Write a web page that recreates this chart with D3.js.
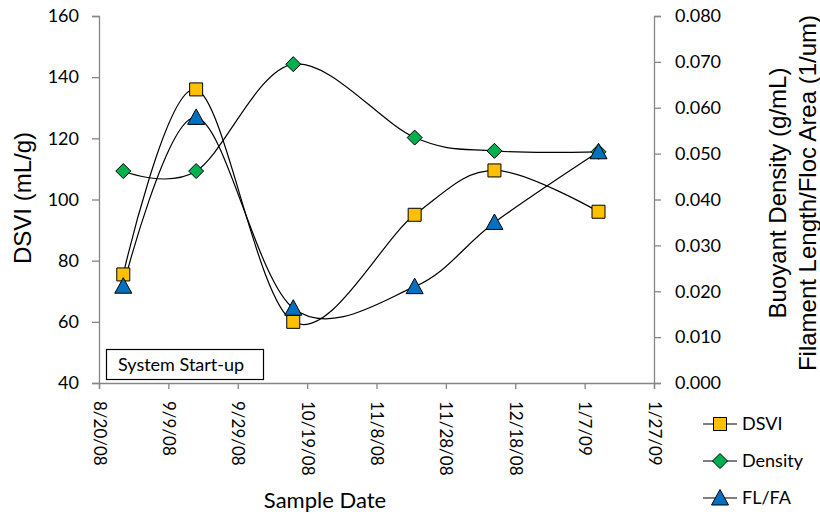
<!DOCTYPE html>
<html>
<head>
<meta charset="utf-8">
<script src="https://cdn.jsdelivr.net/npm/d3@7"></script>
<style>
  html, body { margin: 0; padding: 0; background: #fff; }
  svg { display: block; }
</style>
</head>
<body>
<svg id="chart" width="820" height="521"></svg>
<script>
// ---- data ----
const sampleDates = ["2008-08-27", "2008-09-17", "2008-10-15", "2008-11-19", "2008-12-12", "2009-01-11"];
const dsvi = [75.5, 136, 60, 95, 109.5, 96];
const density = [0.0462, 0.0462, 0.0695, 0.0535, 0.0506, 0.0504];
const flfa = [0.0211, 0.0579, 0.0163, 0.0210, 0.0350, 0.0504];
const xTickLabels = ["8/20/08", "9/9/08", "9/29/08", "10/19/08", "11/8/08", "11/28/08", "12/18/08", "1/7/09", "1/27/09"];
const leftTicks = [40, 60, 80, 100, 120, 140, 160];
const rightTicks = [0, 0.01, 0.02, 0.03, 0.04, 0.05, 0.06, 0.07, 0.08];
const seriesNames = ["DSVI", "Density", "FL/FA"];

// ---- setup ----
const svg = d3.select("#chart");
const parse = d3.timeParse("%Y-%m-%d");
const parseTick = d3.timeParse("%m/%d/%y");
const tickDates = xTickLabels.map(parseTick);

const mLeft = 99, mRight = 654, mTop = 16, mBottom = 383;
const x = d3.scaleTime().domain([tickDates[0], tickDates[tickDates.length - 1]]).range([mLeft, mRight]);
const yL = d3.scaleLinear().domain([40, 160]).range([mBottom, mTop]);
const yR = d3.scaleLinear().domain([0, 0.08]).range([mBottom, mTop]);

const axisColor = "#868686";
const tickFont = "Lato, 'Open Sans', sans-serif";
const titleFont = "'Liberation Sans', Arial, sans-serif";

// left axis
const gL = svg.append("g").attr("transform", `translate(${mLeft},0)`)
  .call(d3.axisLeft(yL).tickValues(leftTicks).tickSize(7).tickPadding(13).tickFormat(d3.format("d")));
// right axis
const gR = svg.append("g").attr("transform", `translate(${mRight},0)`)
  .call(d3.axisRight(yR).tickValues(rightTicks).tickSize(7).tickPadding(14).tickFormat(d3.format(".3f")));
// bottom axis
const gB = svg.append("g").attr("transform", `translate(0,${mBottom})`)
  .call(d3.axisBottom(x).tickValues(tickDates).tickSize(6).tickFormat((d, i) => xTickLabels[i]));

[gL, gR, gB].forEach(g => {
  g.select(".domain").attr("stroke", axisColor).attr("stroke-width", 1.3);
  g.selectAll(".tick line").attr("stroke", axisColor).attr("stroke-width", 1.3);
  g.selectAll("text").attr("fill", "#000").style("font-family", tickFont);
});
gL.selectAll("text").style("font-size", "18px");
gR.selectAll("text").style("font-size", "18px");
gB.selectAll(".tick text")
  .style("font-size", "17px")
  .attr("text-anchor", "start")
  .attr("dy", "0.35em")
  .attr("y", 0)
  .attr("transform", "translate(0,18) rotate(90)");

// ---- text box ----
const box = svg.append("g");
box.append("rect").attr("x", 106.5).attr("y", 349.5).attr("width", 157).attr("height", 30)
  .attr("fill", "#fff").attr("stroke", "#000").attr("stroke-width", 1.2);
box.append("text").attr("x", 118).attr("y", 371).text("System Start-up")
  .style("font-family", tickFont).style("font-size", "18px").attr("fill", "#000");

// ---- lines ----
const curve = d3.curveCardinal.tension(0);
const dates = sampleDates.map(parse);
const series = [
  { name: seriesNames[0], vals: dsvi, y: yL, color: "#FFC000", shape: "square" },
  { name: seriesNames[1], vals: density, y: yR, color: "#00B050", shape: "diamond" },
  { name: seriesNames[2], vals: flfa, y: yR, color: "#0070C0", shape: "triangle" }
];

function markerPath(shape) {
  if (shape === "square") return "M-6.5,-6.5H6.5V6.5H-6.5Z";
  if (shape === "diamond") return "M0,-7.5L7.5,0L0,7.5L-7.5,0Z";
  return "M0,-8.5L8.5,7L-8.5,7Z";
}

series.forEach(s => {
  const line = d3.line().x((d, i) => x(dates[i])).y(d => s.y(d)).curve(curve);
  svg.append("path").attr("d", line(s.vals)).attr("fill", "none").attr("stroke", "#000").attr("stroke-width", 1.2);
});
series.forEach(s => {
  svg.append("g").selectAll("path").data(s.vals).join("path")
    .attr("transform", (d, i) => `translate(${x(dates[i])},${s.y(d)})`)
    .attr("d", markerPath(s.shape))
    .attr("fill", s.color).attr("stroke", "#000").attr("stroke-width", 1);
});

// ---- titles ----
svg.append("text").attr("transform", "translate(31,198) rotate(-90)")
  .attr("text-anchor", "middle").style("font-family", titleFont).style("font-size", "24px")
  .text("DSVI (mL/g)");
svg.append("text").attr("transform", "translate(786,193) rotate(-90)")
  .attr("text-anchor", "middle").style("font-family", titleFont).style("font-size", "24px")
  .text("Buoyant Density (g/mL)");
svg.append("text").attr("transform", "translate(816,193) rotate(-90)")
  .attr("text-anchor", "middle").style("font-family", titleFont).style("font-size", "24px")
  .text("Filament Length/Floc Area (1/um)");
svg.append("text").attr("x", 325).attr("y", 508)
  .attr("text-anchor", "middle").style("font-family", tickFont).style("font-size", "22px")
  .text("Sample Date");

// ---- legend ----
const legY = [424, 461, 498];
series.forEach((s, i) => {
  const g = svg.append("g").attr("transform", `translate(0,${legY[i]})`);
  g.append("line").attr("x1", 703).attr("x2", 737).attr("y1", 0).attr("y2", 0)
    .attr("stroke", "#000").attr("stroke-width", 1.2);
  g.append("path").attr("transform", "translate(720,0)").attr("d", markerPath(s.shape))
    .attr("fill", s.color).attr("stroke", "#000").attr("stroke-width", 1);
  g.append("text").attr("x", 742).attr("y", 0).attr("dy", "0.35em").text(s.name)
    .style("font-family", tickFont).style("font-size", "18px");
});
</script>
</body>
</html>
